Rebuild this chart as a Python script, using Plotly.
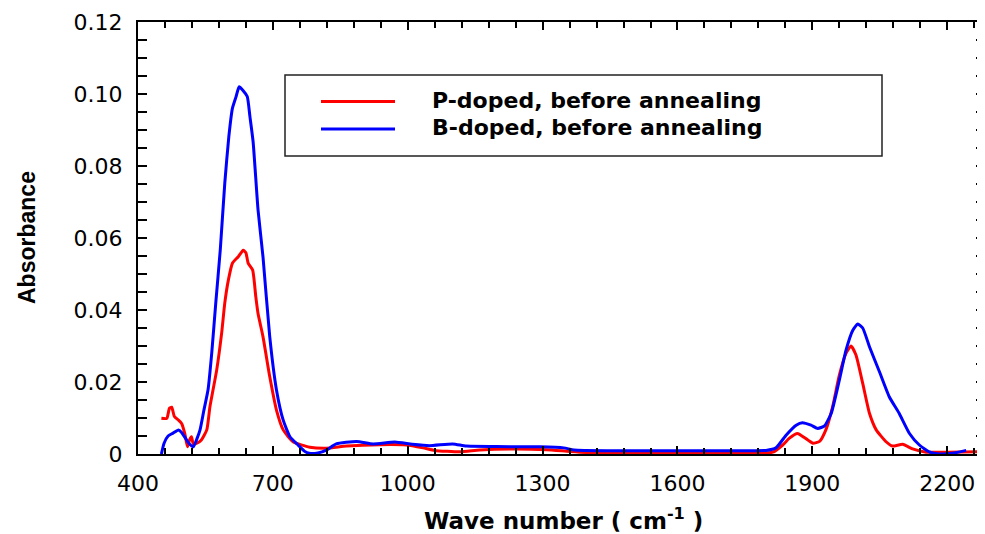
import plotly.graph_objects as go

# ---- data ----
p_wavenumber = [452, 464, 470, 475, 481, 490, 497, 504, 510, 515, 519, 523, 531, 541, 553,
                560, 575, 586, 593, 601, 610, 623, 634, 640, 645, 655, 662, 667, 678, 693,
                708, 723, 745, 782, 819, 864, 938, 997, 1034, 1060, 1116, 1160, 1234, 1308,
                1360, 1400, 1600, 1740, 1812, 1834, 1849, 1867, 1882, 1901, 1916, 1930, 1945,
                1960, 1975, 1986, 1997, 2012, 2027, 2042, 2064, 2078, 2101, 2123, 2153, 2200, 2284]
p_absorbance = [0.0099, 0.0099, 0.0127, 0.0130, 0.0104, 0.0094, 0.0085, 0.0057, 0.0020, 0.0040,
                0.0048, 0.0028, 0.0030, 0.0039, 0.0067, 0.0131, 0.0233, 0.0335, 0.0419, 0.0483,
                0.0530, 0.0548, 0.0566, 0.0559, 0.0530, 0.0511, 0.0437, 0.0390, 0.0326, 0.0215,
                0.0122, 0.0067, 0.0034, 0.0019, 0.0016, 0.0022, 0.0026, 0.0025, 0.0017, 0.0010,
                0.0006, 0.0011, 0.0014, 0.0012, 0.0007, 0.0004, 0.0004, 0.0003, 0.0005, 0.0025,
                0.0044, 0.0057, 0.0046, 0.0030, 0.0035, 0.0067, 0.0131, 0.0219, 0.0280, 0.0300,
                0.0275, 0.0196, 0.0113, 0.0067, 0.0034, 0.0022, 0.0027, 0.0014, 0.0005, 0.0005, 0.0007]

b_wavenumber = [452, 458, 467, 478, 490, 497, 505, 513, 523, 531, 538, 546, 556, 564, 573,
                583, 593, 602, 610, 618, 625, 634, 643, 649, 656, 667, 678, 693, 708, 723,
                738, 756, 770, 781, 800, 819, 841, 886, 923, 971, 1010, 1048, 1100, 1130, 1197,
                1257, 1294, 1347, 1370, 1450, 1600, 1738, 1797, 1819, 1842, 1864, 1878, 1897,
                1912, 1927, 1942, 1960, 1975, 1990, 2001, 2012, 2027, 2049, 2071, 2093, 2116,
                2138, 2160, 2182, 2212, 2242]
b_absorbance = [0.0000, 0.0030, 0.0050, 0.0058, 0.0067, 0.0060, 0.0045, 0.0030, 0.0020, 0.0042,
                0.0067, 0.0118, 0.0180, 0.0280, 0.0420, 0.0567, 0.0752, 0.0881, 0.0960, 0.0992,
                0.1020, 0.1009, 0.0993, 0.0937, 0.0868, 0.0678, 0.0548, 0.0326, 0.0178, 0.0094,
                0.0048, 0.0025, 0.0008, 0.0002, 0.0003, 0.0011, 0.0028, 0.0035, 0.0028, 0.0033,
                0.0027, 0.0023, 0.0028, 0.0022, 0.0021, 0.0020, 0.0020, 0.0017, 0.0011, 0.0009,
                0.0009, 0.0009, 0.0010, 0.0017, 0.0053, 0.0080, 0.0087, 0.0080, 0.0071, 0.0078,
                0.0113, 0.0205, 0.0289, 0.0344, 0.0361, 0.0350, 0.0298, 0.0229, 0.0159, 0.0113,
                0.0057, 0.0025, 0.0006, 0.0000, 0.0002, 0.0010]

series_names = ["P-doped, before annealing", "B-doped, before annealing"]
series_colors = ["#ff0000", "#0000ff"]

x_tickvals = [400, 700, 1000, 1300, 1600, 1900, 2200]
y_tickvals = [0, 0.02, 0.04, 0.06, 0.08, 0.10, 0.12]
y_ticktext = ["0", "0.02", "0.04", "0.06", "0.08", "0.10", "0.12"]

FONT = "DejaVu Sans, Liberation Sans, Arial, sans-serif"

fig = go.Figure()
for xs, ys, name, color in [(p_wavenumber, p_absorbance, series_names[0], series_colors[0]),
                            (b_wavenumber, b_absorbance, series_names[1], series_colors[1])]:
    fig.add_trace(go.Scatter(x=xs, y=ys, mode="lines", name=name,
                             line=dict(color=color, width=3, shape="spline", smoothing=0.5),
                             showlegend=False))

# page offset of the figure (default body margin of the page)
OFF = 8
W, H = 985 - OFF, 534 - OFF
# plot area geometry in page pixels
L, R, T, B = 138, 985, 22, 454
def px(x):
    return (x - L) / (R - L)
def py(y):
    return (B - y) / (B - T)

shapes = [
    dict(type="rect", xref="paper", yref="paper", x0=px(285), x1=px(882), y0=py(156), y1=py(75),
         line=dict(color="#222222", width=1.5), fillcolor="white", layer="above"),
]
annotations = []
for i, (name, color) in enumerate(zip(series_names, series_colors)):
    ly = [101.5, 129.0][i]
    shapes.append(dict(type="line", xref="paper", yref="paper", x0=px(321), x1=px(395),
                       y0=py(ly), y1=py(ly), line=dict(color=color, width=3), layer="above"))
    annotations.append(dict(xref="paper", yref="paper", x=px(430), y=py(ly - 1), text="<b>%s</b>" % name,
                            showarrow=False, xanchor="left", yanchor="middle",
                            font=dict(family=FONT, size=22, color="black")))

annotations.append(dict(xref="paper", yref="paper", x=px(563), y=py(519),
                        text="<b>Wave number ( cm<sup>-1</sup> )</b>", showarrow=False,
                        xanchor="center", yanchor="middle",
                        font=dict(family=FONT, size=23, color="black")))
annotations.append(dict(xref="paper", yref="paper", x=px(27), y=py(238),
                        text="<b>Absorbance</b>", showarrow=False, textangle=-90,
                        xanchor="center", yanchor="middle",
                        font=dict(family="Liberation Sans, Arial, sans-serif", size=23, color="black")))

fig.update_layout(
    width=W, height=H,
    margin=dict(l=L - OFF, r=W - (R - OFF), t=T - OFF, b=H - (B - OFF), autoexpand=False),
    paper_bgcolor="white", plot_bgcolor="white",
    font=dict(family=FONT, size=22, color="black"),
    shapes=shapes, annotations=annotations,
    xaxis=dict(range=[400, 2284], tickvals=x_tickvals, ticks="inside", ticklen=8, tickwidth=2,
               tickcolor="black", showline=True, linecolor="black", linewidth=2, mirror="ticks",
               showgrid=False, zeroline=False, ticklabelstandoff=9, automargin=False,
               tickfont=dict(family=FONT, size=22, color="black"),
               minor=dict(tick0=400, dtick=60, ticks="inside", ticklen=6, tickwidth=2,
                          tickcolor="black", showgrid=False)),
    yaxis=dict(range=[0, 0.12], tickvals=y_tickvals, ticktext=y_ticktext, ticks="inside", ticklen=9,
               tickwidth=2, tickcolor="black", showline=True, linecolor="black", linewidth=2,
               mirror="ticks", showgrid=False, zeroline=False, ticklabelstandoff=9, automargin=False,
               tickfont=dict(family=FONT, size=22, color="black"),
               minor=dict(dtick=0.005, ticks="inside", ticklen=9, tickwidth=1.5,
                          tickcolor="black", showgrid=False)),
)

fig.write_html("out.html")
